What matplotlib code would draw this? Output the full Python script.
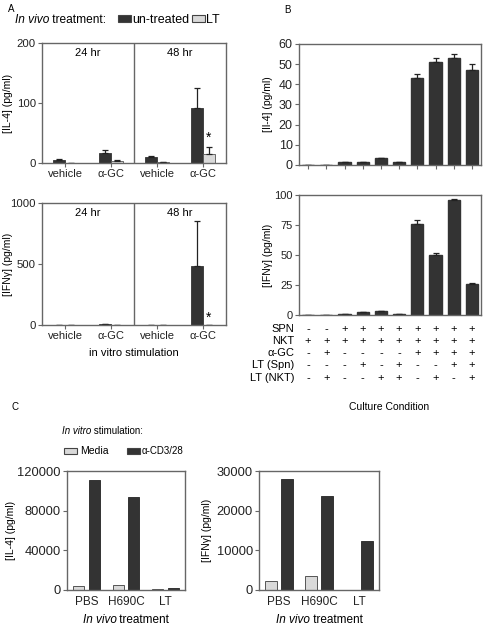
import matplotlib
matplotlib.use("Agg")
import matplotlib.pyplot as plt
from matplotlib.patches import Rectangle
import numpy as np

plt.rcParams['font.family'] = ['Liberation Sans', 'DejaVu Sans']
plt.rcParams['font.size'] = 7.5

# ---------------- data ----------------
# Panel A
a_groups = ["vehicle", "\u03b1-GC", "vehicle", "\u03b1-GC"]
a_il4_untreated = [5, 17, 10, 92]
a_il4_untreated_err = [1, 4, 1.5, 33]
a_il4_lt = [0.5, 4, 1, 15]
a_il4_lt_err = [0.3, 1.5, 0.3, 12]
a_ifn_untreated = [2, 5, 2, 480]
a_ifn_untreated_err = [0.5, 1, 0.5, 370]
a_ifn_lt = [0.5, 1, 0.5, 1]
a_ifn_lt_err = [0, 0, 0, 0]
a_time_labels = ["24 hr", "48 hr"]

# Panel B
b_il4 = [0.2, 0.2, 1.5, 1.7, 3.5, 1.5, 43, 51, 53, 47]
b_il4_err = [0, 0, 0, 0, 0, 0, 2, 2, 2, 3]
b_ifn = [0, 0, 0.8, 2.5, 3, 0.8, 76, 50, 96, 26]
b_ifn_err = [0, 0, 0, 0, 0, 0, 3, 2, 0.5, 0.5]
b_rows = ["SPN", "NKT", "\u03b1-GC", "LT (Spn)", "LT (NKT)"]
b_table = [
    "--++++++++",
    "++++++++++",
    "-+----++++",
    "---+-+--++",
    "-+--++-+-+",
]

# Panel C
c_groups = ["PBS", "H690C", "LT"]
c_il4_media = [4000, 5500, 800]
c_il4_cd3 = [111000, 94000, 2500]
c_ifn_media = [2200, 3600, 0]
c_ifn_cd3 = [28000, 23700, 12400]

DARK = "#333333"
LIGHT = "#d9d9d9"
SPINE = "#666666"

W, H = 484, 627
fig = plt.figure(figsize=(W / 100, H / 100), dpi=100)
renderer = fig.canvas.get_renderer()


def ax_px(x0, y0, x1, y1):
    ax = fig.add_axes([x0 / W, 1 - y1 / H, (x1 - x0) / W, (y1 - y0) / H])
    ax._px = (x0, x1)
    return ax


def style(ax):
    for s in ax.spines.values():
        s.set_color(SPINE)
        s.set_linewidth(1.0)
    ax.tick_params(colors="#222222", length=3, width=0.8, direction="out", pad=1.5)
    ax.tick_params(axis="both", color=SPINE)


def ylabel_at(ax, text, xpx, size=7.5):
    ax.set_ylabel(text, fontsize=size, va="center")
    x0, x1 = ax._px
    ax.yaxis.set_label_coords((xpx - x0) / (x1 - x0), 0.5)


def ftext(x, y, s, **kw):
    return fig.text(x / W, 1 - y / H, s, **kw)


def ftext_pair(x, y, s1, s2, size, **kw):
    t = ftext(x, y, s1, fontsize=size, style="italic", **kw)
    bb = t.get_window_extent(renderer)
    fig.text(bb.x1 / W, 1 - y / H, s2, fontsize=size, **kw)


def frect(x, y, w, h, fc):
    fig.add_artist(Rectangle((x / W, 1 - (y + h) / H), w / W, h / H,
                             transform=fig.transFigure, facecolor=fc,
                             edgecolor="#444444", linewidth=0.8))


# ---------------- Panel A ----------------
xa = np.arange(4) + 0.5
bw = 0.26
ekw = dict(ecolor="#222222", elinewidth=0.9, capsize=2.5, capthick=0.9)


def panel_a(ax, unt, unt_err, lt, lt_err, ymax, yticks, ylabel):
    ax.bar(xa - bw / 2, unt, bw, color=DARK, edgecolor=DARK, linewidth=0.6,
           yerr=[np.zeros(4), unt_err], error_kw=ekw)
    ax.bar(xa + bw / 2, lt, bw, color=LIGHT, edgecolor="#555555", linewidth=0.6,
           yerr=[np.zeros(4), lt_err], error_kw=ekw)
    ax.set_xlim(0, 4)
    ax.set_ylim(0, ymax)
    ax.set_yticks(yticks)
    ax.set_xticks(xa)
    ax.set_xticklabels(a_groups, fontsize=8)
    ax.axvline(2, color=SPINE, linewidth=1.0)
    ax.text(1, ymax * 0.92, a_time_labels[0], ha="center", va="center", fontsize=8)
    ax.text(3, ymax * 0.92, a_time_labels[1], ha="center", va="center", fontsize=8)
    style(ax)
    ax.tick_params(axis="y", labelsize=8.2)
    ylabel_at(ax, ylabel, 8.5)


axA1 = ax_px(42, 43, 226, 163)
panel_a(axA1, a_il4_untreated, a_il4_untreated_err, a_il4_lt, a_il4_lt_err,
        200, [0, 100, 200], "[IL-4] (pg/ml)")
axA1.text(xa[3] + bw / 2, a_il4_lt[3] + a_il4_lt_err[3] + 4, "*", ha="center",
          va="bottom", fontsize=10)

axA2 = ax_px(42, 203, 226, 325)
panel_a(axA2, a_ifn_untreated, a_ifn_untreated_err, a_ifn_lt, a_ifn_lt_err,
        1000, [0, 500, 1000], "[IFN\u03b3] (pg/ml)")
axA2.text(xa[3] + bw / 2, 5, "*", ha="center", va="bottom", fontsize=10)
axA2.set_xlabel("in vitro stimulation", fontsize=8, labelpad=5)

ftext(8, 12, "A", fontsize=7)
ftext_pair(15, 23, "In vivo", " treatment:", 8.6)
frect(118, 15, 13, 7, DARK)
ftext(132, 23, "un-treated", fontsize=9)
frect(192, 15, 13, 7, LIGHT)
ftext(206, 23, "LT", fontsize=9)

# ---------------- Panel B ----------------
xb = np.arange(10)
axB1 = ax_px(299, 44, 481, 165)
axB1.bar(xb, b_il4, 0.68, color=DARK, edgecolor=DARK,
         yerr=[np.zeros(10), b_il4_err], error_kw=ekw)
axB1.set_xlim(-0.5, 9.5)
axB1.set_ylim(0, 60)
axB1.set_yticks(range(0, 61, 10))
axB1.set_xticks(xb)
axB1.set_xticklabels([])
style(axB1)
axB1.tick_params(axis="y", labelsize=9)
ylabel_at(axB1, "[Il-4] (pg/ml)", 268)

axB2 = ax_px(299, 195, 481, 315)
axB2.bar(xb, b_ifn, 0.68, color=DARK, edgecolor=DARK,
         yerr=[np.zeros(10), b_ifn_err], error_kw=ekw)
axB2.set_xlim(-0.5, 9.5)
axB2.set_ylim(0, 100)
axB2.set_yticks([0, 25, 50, 75, 100])
axB2.set_xticks([])
style(axB2)
axB2.tick_params(axis="y", labelsize=8)
ylabel_at(axB2, "[IFN\u03b3] (pg/ml)", 268)

row_y = [329, 341, 353, 365, 378]
bar_px = [299 + (i + 0.5) * 18.2 for i in range(10)]
for lab, ry, signs in zip(b_rows, row_y, b_table):
    ftext(294, ry, lab, fontsize=8, ha="right", va="center")
    for bx, sgn in zip(bar_px, signs):
        ftext(bx, ry, "+" if sgn == "+" else "-", fontsize=8, ha="center", va="center")

ftext(284, 13, "B", fontsize=7)
ftext(389, 407, "Culture Condition", fontsize=7.5, ha="center", va="center")

# ---------------- Panel C ----------------
xc = np.arange(3)
cw = 0.28
off = 0.2


def panel_c(ax, media, cd3, ymax, yticks, ylabel, ylx):
    ax.bar(xc - off, media, cw, color=LIGHT, edgecolor="#555555", linewidth=0.7)
    ax.bar(xc + off, cd3, cw, color=DARK, edgecolor=DARK, linewidth=0.7)
    ax.set_xlim(-0.5, 2.5)
    ax.set_ylim(0, ymax)
    ax.set_yticks(yticks)
    ax.set_xticks(xc)
    ax.set_xticklabels(c_groups, fontsize=8.5)
    style(ax)
    ax.tick_params(axis="x", length=0, pad=4)
    ax.tick_params(axis="y", labelsize=9.3)
    ylabel_at(ax, ylabel, ylx)
    x0, x1 = ax._px
    xm = (x0 + x1) / 2
    t1 = ftext(0, 620, "In vivo", fontsize=8.5, style="italic", va="center")
    t2 = ftext(0, 620, " treatment", fontsize=8.5, va="center")
    w1 = t1.get_window_extent(renderer).width
    w2 = t2.get_window_extent(renderer).width
    start = xm - (w1 + w2) / 2
    t1.set_x(start / W)
    t2.set_x((start + w1) / W)


axC1 = ax_px(67, 471, 185, 590)
panel_c(axC1, c_il4_media, c_il4_cd3, 120000, [0, 40000, 80000, 120000],
        "[IL-4] (pg/ml)", 11)
axC2 = ax_px(259, 471, 379, 590)
panel_c(axC2, c_ifn_media, c_ifn_cd3, 30000, [0, 10000, 20000, 30000],
        "[IFN\u03b3] (pg/ml)", 207)

ftext(12, 410, "C", fontsize=7)
ftext_pair(62, 434, "In vitro", " stimulation:", 7)
frect(64, 448, 13, 6, LIGHT)
ftext(80, 454, "Media", fontsize=7.5)
frect(127, 448, 13, 6, DARK)
ftext(142, 454, "\u03b1-CD3/28", fontsize=7)

fig.savefig("out.png", dpi=100)
